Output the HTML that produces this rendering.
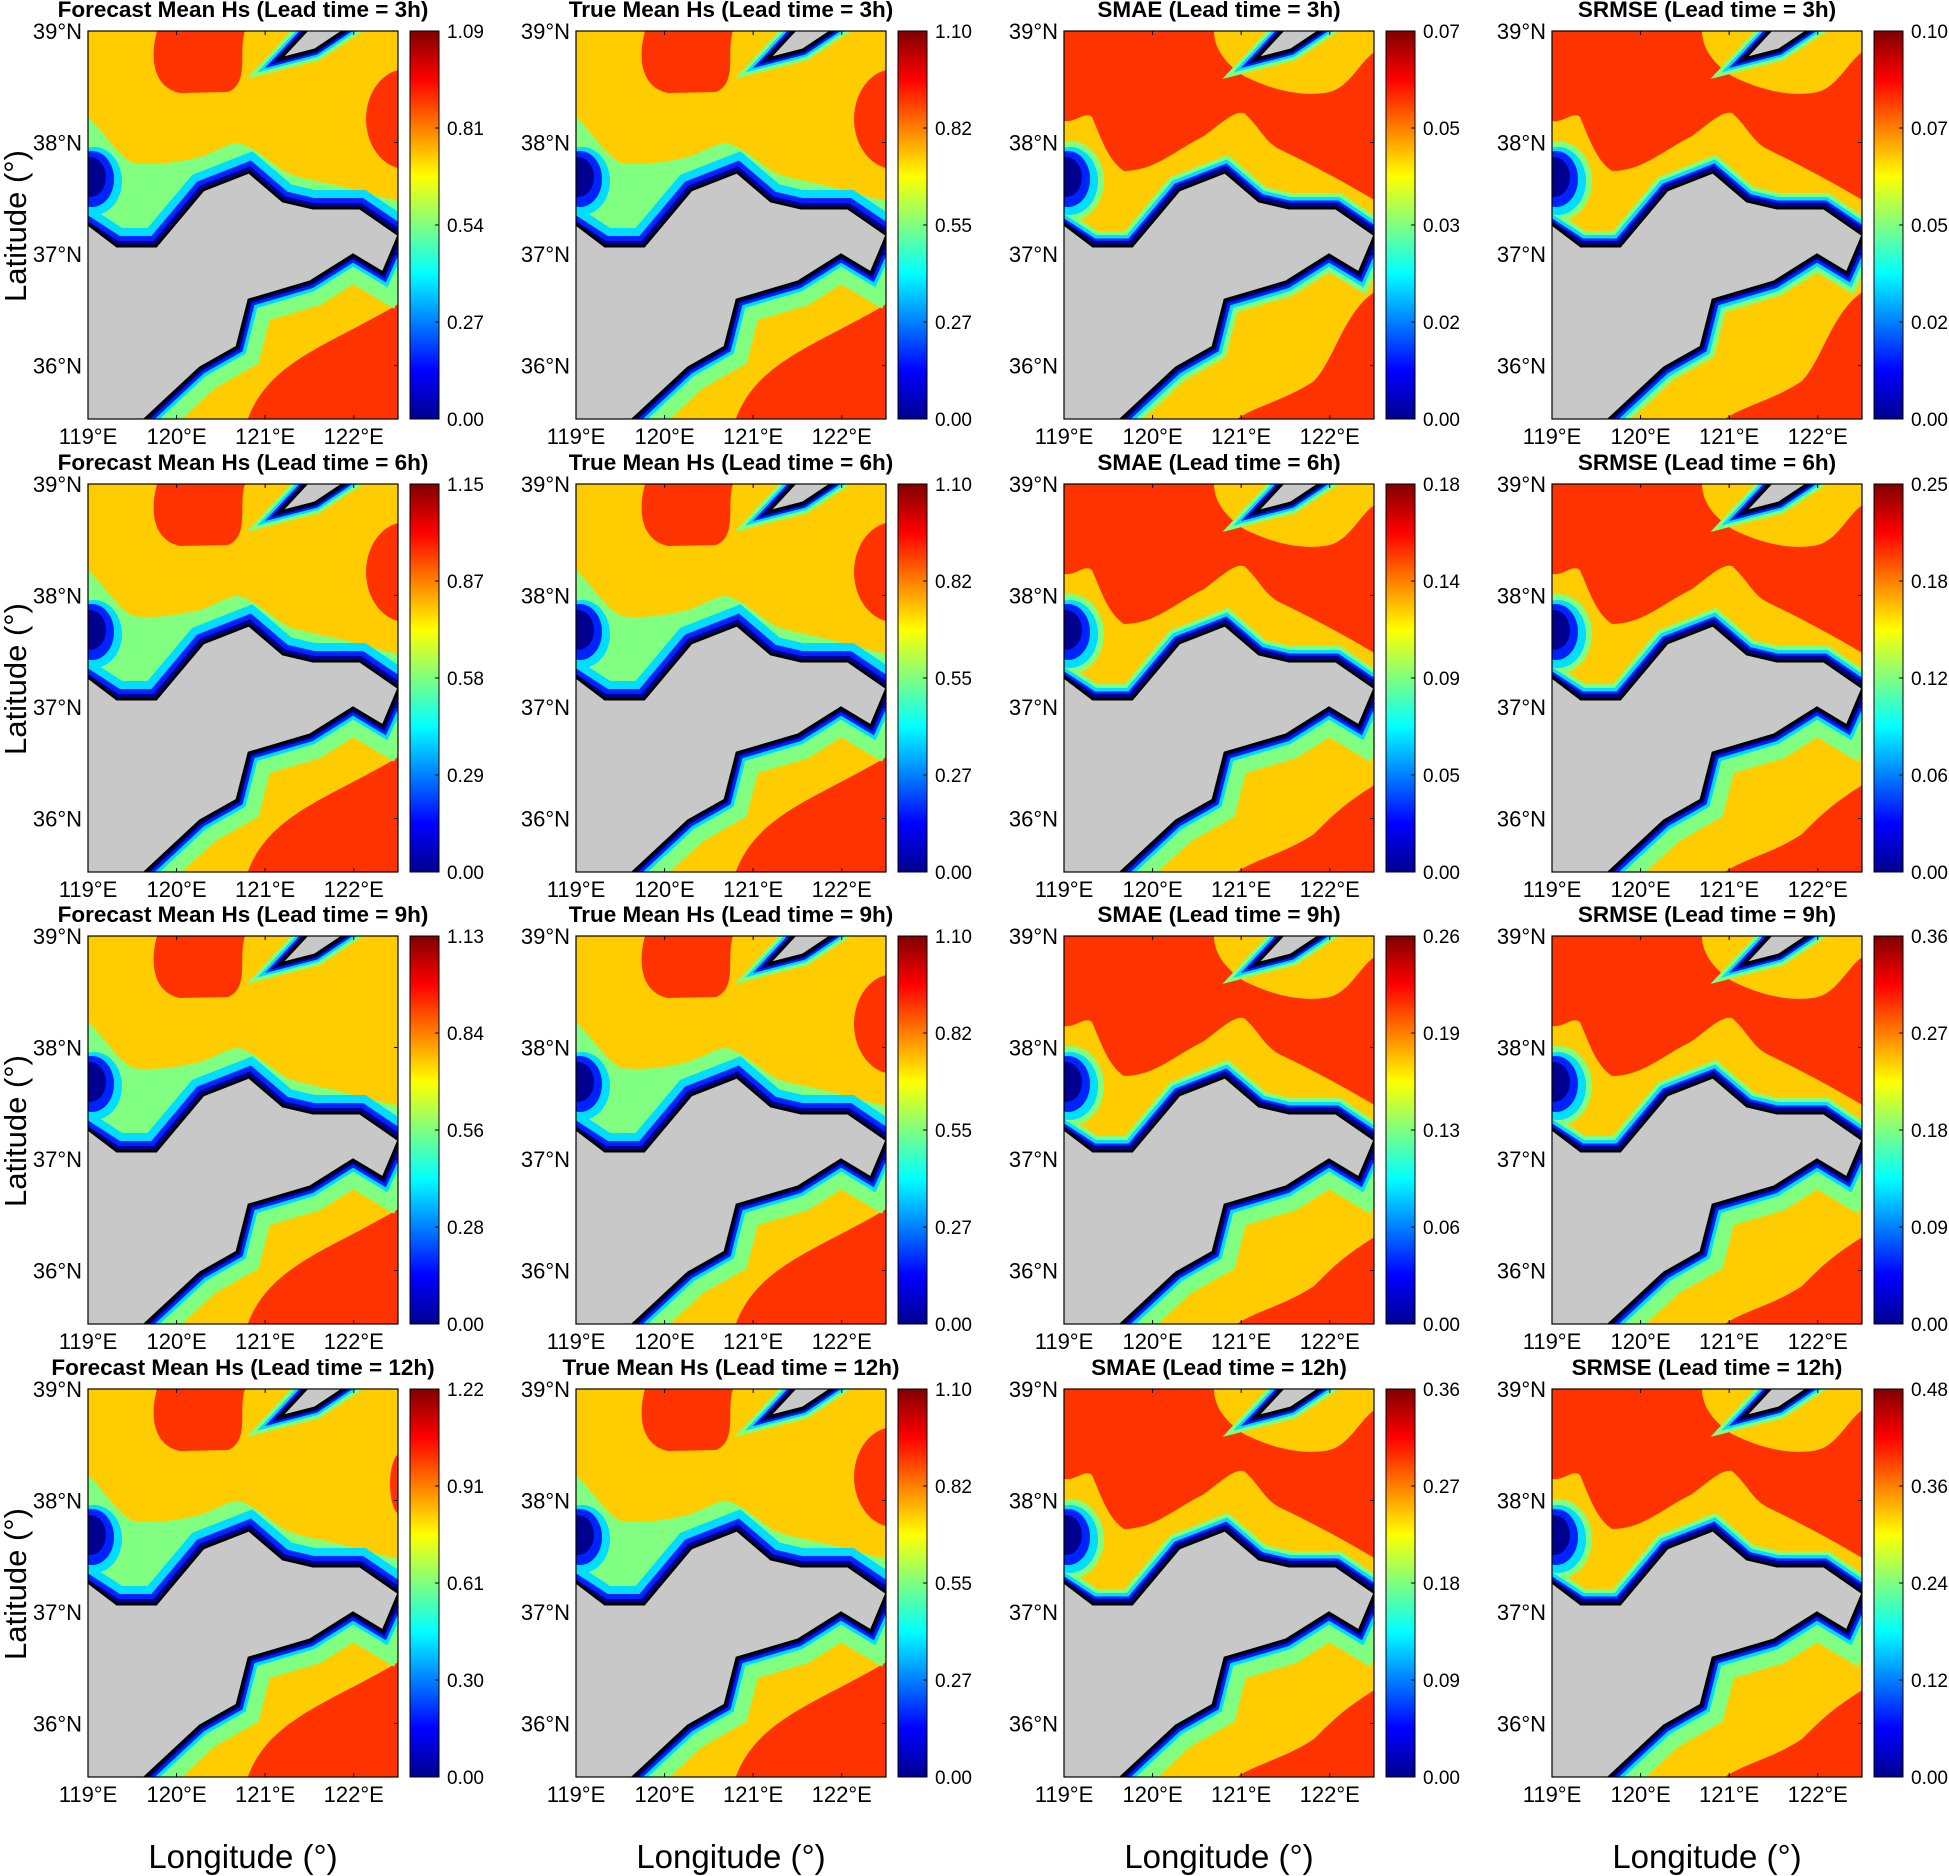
<!DOCTYPE html>
<html><head><meta charset="utf-8"><style>
html,body{margin:0;padding:0;background:#fff;}
svg{display:block;font-family:"Liberation Sans",Arial,sans-serif;}
</style></head><body>
<svg id="fig" width="1949" height="1876" viewBox="0 0 1949 1876" xmlns="http://www.w3.org/2000/svg">
<defs>
<linearGradient id="jet" x1="0" y1="1" x2="0" y2="0">
<stop offset="0" stop-color="#00008F"/><stop offset="0.125" stop-color="#0000FF"/><stop offset="0.375" stop-color="#00FFFF"/><stop offset="0.625" stop-color="#FFFF00"/><stop offset="0.875" stop-color="#FF0000"/><stop offset="1" stop-color="#800000"/>
</linearGradient>
<clipPath id="mapclip"><rect x="0" y="0" width="310" height="388"/></clipPath>
</defs>
</svg>
<script>
const colX = [88, 576, 1064, 1552];
const rowY = [31, 484, 936, 1389];
const leadTimes = ["3h","6h","9h","12h"];
const panelNames = ["Forecast Mean Hs","True Mean Hs","SMAE","SRMSE"];
const cbLabels = [
 [["1.09","0.81","0.54","0.27","0.00"],["1.10","0.82","0.55","0.27","0.00"],["0.07","0.05","0.03","0.02","0.00"],["0.10","0.07","0.05","0.02","0.00"]],
 [["1.15","0.87","0.58","0.29","0.00"],["1.10","0.82","0.55","0.27","0.00"],["0.18","0.14","0.09","0.05","0.00"],["0.25","0.18","0.12","0.06","0.00"]],
 [["1.13","0.84","0.56","0.28","0.00"],["1.10","0.82","0.55","0.27","0.00"],["0.26","0.19","0.13","0.06","0.00"],["0.36","0.27","0.18","0.09","0.00"]],
 [["1.22","0.91","0.61","0.30","0.00"],["1.10","0.82","0.55","0.27","0.00"],["0.36","0.27","0.18","0.09","0.00"],["0.48","0.36","0.24","0.12","0.00"]]
];
const lonTicks = ["119°E","120°E","121°E","122°E"];
const lonVals = [119,120,121,122];
const latTicks = ["39°N","38°N","37°N","36°N"];
const latVals = [39,38,37,36];
const lonMin=119, lonMax=122.5, latMin=35.52, latMax=39;
const W=310, H=388;
function xs(lon){return (lon-lonMin)/(lonMax-lonMin)*W;}
function ys(lat){return (latMax-lat)/(latMax-latMin)*H;}

const NS="http://www.w3.org/2000/svg";
const svg=document.getElementById('fig');
function mk(tag,attrs,parent){const e=document.createElementNS(NS,tag);for(const k in attrs)e.setAttribute(k,attrs[k]);(parent||svg).appendChild(e);return e;}

const RED="#FF3300", YEL="#FFCC00", GRN="#80FF80", CYN="#00DDFF", BLU="#0022FF", NAV="#000090", LAND="#C8C8C8";
const landPath="M0,193 L29,215 L68,215 L115,159 L161,141 L195,170 L225,177 L272,177 L311,204 L295,242 L265,224 L222,251 L161,269 L149,316 L112,337 L55,390 L-2,390 L-2,193 Z";
const northCoast="M-5,193 L29,215 L68,215 L115,159 L161,141 L195,170 L225,177 L272,177 L312,204";
const southCoast="M55,390 L112,337 L149,316 L161,269 L222,251 L265,224 L295,242 L312,205";
const island="M192,28 L227,19 L257,-1 L219,-1 Z";

for(let r=0;r<4;r++){
 for(let c=0;c<4;c++){
  const mx=colX[c], my=rowY[r];
  const g=mk('g',{transform:`translate(${mx},${my})`});
  
  
  const t=mk('text',{x:155,y:-14,'text-anchor':'middle','font-size':22.5,'font-weight':'bold',fill:'#000'},g);
  t.textContent=`${panelNames[c]} (Lead time = ${leadTimes[r]})`;
  
  
  const m=mk('g',{'clip-path':'url(#mapclip)'},g);
  
  
  const hs = c<2;
  mk('rect',{x:0,y:0,width:W,height:H,fill:hs?YEL:RED},m);
  if(hs){
   mk('path',{d:"M69,0 L157,0 C150,20 162,52 140,61 L92,62 C64,56 62,25 69,0 Z",fill:RED},m);
   if(!(c===0&&r>=2)) mk('ellipse',{cx:318,cy:88,rx:40,ry:50,fill:RED},m);
   if(c===0&&r===3) mk('ellipse',{cx:312,cy:95,rx:10,ry:30,fill:RED},m);
   mk('path',{d:"M159,390 C180,330 240,315 312,272 L312,390 Z",fill:RED},m);
   mk('path',{d:"M0,86 C15,100 30,125 45,132 C70,135 95,130 112,126 C130,120 140,112 150,112 C165,115 180,130 199,142 C220,150 245,152 270,160 C290,165 300,168 312,170 L312,230 L0,230 Z",fill:GRN},m);
   mk('path',{d:southCoast,fill:'none',stroke:GRN,'stroke-width':50},m);
  } else {
   const rb = (r===0)?260:300;
   mk('path',{d:"M150,0 L312,0 L312,20 C295,30 285,60 260,62 C230,66 200,55 180,45 C165,35 150,20 150,0 Z",fill:YEL},m);
   mk('path',{d:`M0,90 C12,92 20,80 28,86 C38,110 45,130 60,140 C90,140 110,120 140,105 C160,90 170,80 180,82 C195,95 200,110 215,118 C240,130 270,145 312,170 L312,240 L0,240 Z`,fill:YEL},m);
   mk('path',{d:`M40,390 L140,300 L200,250 L312,200 L312,${rb} C280,${rb+20} 270,330 250,350 C220,370 190,375 170,390 Z`,fill:YEL},m);
   mk('path',{d:northCoast,fill:'none',stroke:GRN,'stroke-width':30},m);
   mk('path',{d:southCoast,fill:'none',stroke:GRN,'stroke-width':(r===0?30:50)},m);
   mk('ellipse',{cx:6,cy:150,rx:34,ry:40,fill:GRN},m);
  }
  mk('ellipse',{cx:6,cy:150,rx:28,ry:34,fill:CYN},m);
  mk('path',{d:northCoast,fill:'none',stroke:CYN,'stroke-width':hs?36:22},m);
  mk('path',{d:southCoast,fill:'none',stroke:CYN,'stroke-width':20},m);
  mk('path',{d:island,fill:'none',stroke:GRN,'stroke-width':22},m);
  mk('path',{d:island,fill:'none',stroke:CYN,'stroke-width':15},m);
  mk('ellipse',{cx:4,cy:148,rx:22,ry:28,fill:BLU},m);
  mk('path',{d:northCoast,fill:'none',stroke:BLU,'stroke-width':hs?20:15},m);
  mk('path',{d:southCoast,fill:'none',stroke:BLU,'stroke-width':13},m);
  mk('path',{d:island,fill:'none',stroke:BLU,'stroke-width':10},m);
  mk('ellipse',{cx:2,cy:146,rx:16,ry:20,fill:NAV},m);
  mk('path',{d:northCoast,fill:'none',stroke:NAV,'stroke-width':10},m);
  mk('path',{d:southCoast,fill:'none',stroke:NAV,'stroke-width':7},m);
  mk('path',{d:island,fill:'none',stroke:NAV,'stroke-width':6},m);
  const land=mk('path',{d:landPath,fill:LAND,stroke:'#000','stroke-width':3,'stroke-linejoin':'miter'},m);
  
  
  mk('path',{d:island,fill:LAND,stroke:'#000','stroke-width':3},m);
  mk('rect',{x:0,y:0,width:W,height:H,fill:'none',stroke:'#000','stroke-width':1.2},g);
  lonVals.forEach((v,i)=>{
   const x=xs(v);
   mk('line',{x1:x,y1:0,x2:x,y2:4,stroke:'#000'},g);
   mk('line',{x1:x,y1:H,x2:x,y2:H-4,stroke:'#000'},g);
   const tl=mk('text',{x:x,y:H+25,'text-anchor':'middle','font-size':22,fill:'#000'},g);
   tl.textContent=lonTicks[i];
   
   
  });
  latVals.forEach((v,i)=>{
   const y=ys(v);
   mk('line',{x1:W,y1:y,x2:W-4,y2:y,stroke:'#000'},g);
   const tl=mk('text',{x:-6,y:y+8,'text-anchor':'end','font-size':22,fill:'#000'},g);
   tl.textContent=latTicks[i];
   
   
  });
  const cb=mk('rect',{x:322,y:0,width:29,height:H,fill:'url(#jet)',stroke:'#000','stroke-width':1},g);
  
  
  cbLabels[r][c].forEach((lab,i)=>{
   const y=i*H/4;
   mk('line',{x1:351,y1:y,x2:347,y2:y,stroke:'#000'},g);
   const tl=mk('text',{x:359,y:y+7,'font-size':19,fill:'#000'},g);
   tl.textContent=lab;
   
   
  });
 }
 const yl=mk('text',{x:0,y:0,transform:`translate(26,${rowY[r]+195}) rotate(-90)`,'text-anchor':'middle','font-size':31,fill:'#000'});
 yl.textContent='Latitude (°)';
 
 
}
colX.forEach(mx=>{
 const xl=mk('text',{x:mx+155,y:1868,'text-anchor':'middle','font-size':33,fill:'#000'});
 xl.textContent='Longitude (°)';
 
 
});
</script>
</body></html>
